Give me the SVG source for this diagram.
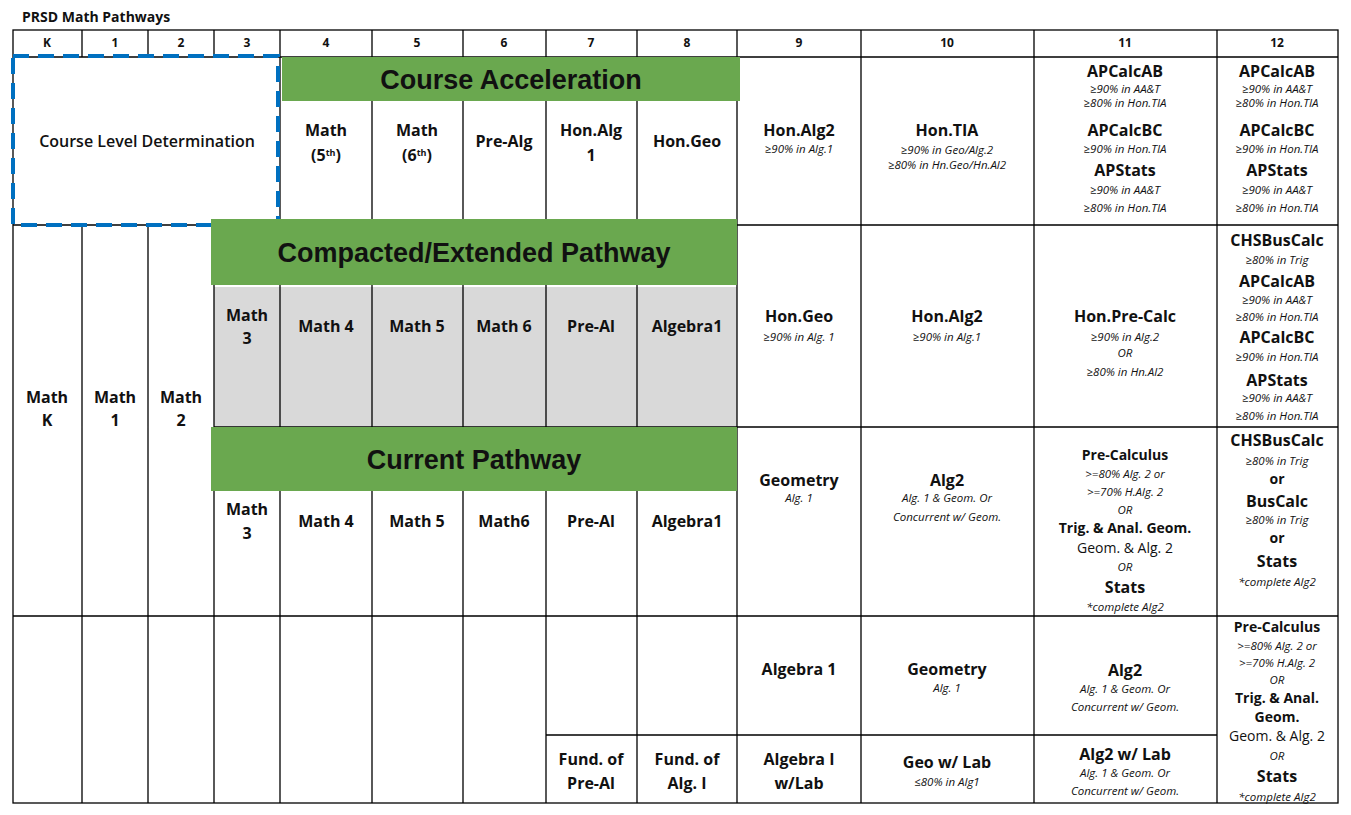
<svg xmlns="http://www.w3.org/2000/svg" width="1351" height="815" viewBox="0 0 1351 815">
<style>
text{font-family:"Open Sans","Liberation Sans",sans-serif;text-anchor:middle;fill:#111}
.h{font-size:12px;font-weight:bold}
.b{font-size:16px;font-weight:bold}
.m{font-size:14px;font-weight:bold}
.n{font-size:14px}
.s{font-size:11.5px;font-style:italic}
.g{font-family:"Liberation Sans",Arial,sans-serif;font-size:27px;font-weight:bold}
.l{stroke:#000;stroke-width:1.3;fill:none}
.ban{fill:#6aa84f}
</style>
<rect width="1351" height="815" fill="#fff"/>
<text x="22" y="22" style="text-anchor:start;font-size:14px;font-weight:bold">PRSD Math Pathways</text>
<g id="grid">
<rect x="214" y="287" width="523" height="140" fill="#d9d9d9"/>
<rect class="l" x="13" y="30" width="1325" height="773"/>
<path class="l" d="M13 57H1338M13 225H1338M214 427H1338M13 616H1338M546 735H1217
M82 30V57M82 225V803M148 30V57M148 225V803M214 30V57M214 225V803
M280 30V803M372 30V803M463 30V803M546 30V803M637 30V803M737 30V803M861 30V803M1034 30V803M1217 30V803"/>
</g>
<g id="header">
<text class="h" x="47" y="47">K</text><text class="h" x="115" y="47">1</text><text class="h" x="181" y="47">2</text><text class="h" x="247" y="47">3</text><text class="h" x="326" y="47">4</text><text class="h" x="417" y="47">5</text><text class="h" x="504" y="47">6</text><text class="h" x="591" y="47">7</text><text class="h" x="687" y="47">8</text><text class="h" x="799" y="47">9</text><text class="h" x="947" y="47">10</text><text class="h" x="1125" y="47">11</text><text class="h" x="1277" y="47">12</text>
</g>
<g id="course-level">
<rect x="13" y="56" width="265" height="169" fill="none" stroke="#0070c0" stroke-width="4" stroke-dasharray="16 9"/>
<text x="147" y="147" style="font-size:16px;font-weight:600">Course Level Determination</text>
</g>
<g id="row1">
<text class="b" x="326" y="136">Math</text><text class="b" x="326" y="161">(5<tspan font-size="9" dy="-5">th</tspan><tspan dy="5">)</tspan></text>
<text class="b" x="417" y="136">Math</text><text class="b" x="417" y="161">(6<tspan font-size="9" dy="-5">th</tspan><tspan dy="5">)</tspan></text>
<text class="b" x="504" y="147">Pre-Alg</text>
<text class="b" x="591" y="136">Hon.Alg</text><text class="b" x="591" y="161">1</text>
<text class="b" x="687" y="147">Hon.Geo</text>
<text class="b" x="799" y="136">Hon.Alg2</text><text class="s" x="799" y="153">≥90% in Alg.1</text>
<text class="b" x="947" y="136">Hon.TIA</text><text class="s" x="947" y="154">≥90% in Geo/Alg.2</text><text class="s" x="947" y="169">≥80% in Hn.Geo/Hn.Al2</text>
<text class="b" x="1125" y="77">APCalcAB</text><text class="s" x="1125" y="93">≥90% in AA&amp;T</text><text class="s" x="1125" y="107">≥80% in Hon.TIA</text><text class="b" x="1125" y="136">APCalcBC</text><text class="s" x="1125" y="153">≥90% in Hon.TIA</text><text class="b" x="1125" y="176">APStats</text><text class="s" x="1125" y="194">≥90% in AA&amp;T</text><text class="s" x="1125" y="212">≥80% in Hon.TIA</text>
<text class="b" x="1277" y="77">APCalcAB</text><text class="s" x="1277" y="93">≥90% in AA&amp;T</text><text class="s" x="1277" y="107">≥80% in Hon.TIA</text><text class="b" x="1277" y="136">APCalcBC</text><text class="s" x="1277" y="153">≥90% in Hon.TIA</text><text class="b" x="1277" y="176">APStats</text><text class="s" x="1277" y="194">≥90% in AA&amp;T</text><text class="s" x="1277" y="212">≥80% in Hon.TIA</text>
</g>
<g id="row2">
<text class="b" x="47" y="403">Math</text><text class="b" x="47" y="426">K</text>
<text class="b" x="115" y="403">Math</text><text class="b" x="115" y="426">1</text>
<text class="b" x="181" y="403">Math</text><text class="b" x="181" y="426">2</text>
<text class="b" x="247" y="321">Math</text><text class="b" x="247" y="344">3</text>
<text class="b" x="326" y="332">Math 4</text><text class="b" x="417" y="332">Math 5</text><text class="b" x="504" y="332">Math 6</text><text class="b" x="591" y="332">Pre-Al</text><text class="b" x="687" y="332">Algebra1</text>
<text class="b" x="799" y="322">Hon.Geo</text><text class="s" x="799" y="341">≥90% in Alg. 1</text>
<text class="b" x="947" y="322">Hon.Alg2</text><text class="s" x="947" y="341">≥90% in Alg.1</text>
<text class="b" x="1125" y="322">Hon.Pre-Calc</text><text class="s" x="1125" y="341">≥90% in Alg.2</text><text class="s" x="1125" y="357">OR</text><text class="s" x="1125" y="376">≥80% in Hn.Al2</text>
<text class="b" x="1277" y="246">CHSBusCalc</text><text class="s" x="1277" y="264">≥80% in Trig</text><text class="b" x="1277" y="287">APCalcAB</text><text class="s" x="1277" y="304">≥90% in AA&amp;T</text><text class="s" x="1277" y="321">≥80% in Hon.TIA</text><text class="b" x="1277" y="343">APCalcBC</text><text class="s" x="1277" y="361">≥90% in Hon.TIA</text><text class="b" x="1277" y="386">APStats</text><text class="s" x="1277" y="402">≥90% in AA&amp;T</text><text class="s" x="1277" y="420">≥80% in Hon.TIA</text>
</g>
<g id="row3">
<text class="b" x="247" y="515">Math</text><text class="b" x="247" y="539">3</text>
<text class="b" x="326" y="527">Math 4</text><text class="b" x="417" y="527">Math 5</text><text class="b" x="504" y="527">Math6</text><text class="b" x="591" y="527">Pre-Al</text><text class="b" x="687" y="527">Algebra1</text>
<text class="b" x="799" y="486">Geometry</text><text class="s" x="799" y="502">Alg. 1</text>
<text class="b" x="947" y="486">Alg2</text><text class="s" x="947" y="502">Alg. 1 &amp; Geom. Or</text><text class="s" x="947" y="521">Concurrent w/ Geom.</text>
<text class="m" x="1125" y="460">Pre-Calculus</text><text class="s" x="1125" y="478">&gt;=80% Alg. 2 or</text><text class="s" x="1125" y="496">&gt;=70% H.Alg. 2</text><text class="s" x="1125" y="514">OR</text><text class="m" x="1125" y="533">Trig. &amp; Anal. Geom.</text><text class="n" x="1125" y="553">Geom. &amp; Alg. 2</text><text class="s" x="1125" y="571">OR</text><text class="b" x="1125" y="593">Stats</text><text class="s" x="1125" y="611">*complete Alg2</text>
<text class="b" x="1277" y="446">CHSBusCalc</text><text class="s" x="1277" y="465">≥80% in Trig</text><text class="m" x="1277" y="484">or</text><text class="b" x="1277" y="507">BusCalc</text><text class="s" x="1277" y="524">≥80% in Trig</text><text class="m" x="1277" y="543">or</text><text class="b" x="1277" y="567">Stats</text><text class="s" x="1277" y="586">*complete Alg2</text>
</g>
<g id="row4">
<text class="b" x="799" y="675">Algebra 1</text>
<text class="b" x="947" y="675">Geometry</text><text class="s" x="947" y="692">Alg. 1</text>
<text class="b" x="1125" y="676">Alg2</text><text class="s" x="1125" y="693">Alg. 1 &amp; Geom. Or</text><text class="s" x="1125" y="711">Concurrent w/ Geom.</text>
<text class="b" x="591" y="765">Fund. of</text><text class="b" x="591" y="789">Pre-Al</text>
<text class="b" x="687" y="765">Fund. of</text><text class="b" x="687" y="789">Alg. I</text>
<text class="b" x="799" y="765">Algebra I</text><text class="b" x="799" y="789">w/Lab</text>
<text class="b" x="947" y="768">Geo w/ Lab</text><text class="s" x="947" y="786">≤80% in Alg1</text>
<text class="b" x="1125" y="760">Alg2 w/ Lab</text><text class="s" x="1125" y="777">Alg. 1 &amp; Geom. Or</text><text class="s" x="1125" y="795">Concurrent w/ Geom.</text>
<text class="m" x="1277" y="632">Pre-Calculus</text><text class="s" x="1277" y="650">&gt;=80% Alg. 2 or</text><text class="s" x="1277" y="667">&gt;=70% H.Alg. 2</text><text class="s" x="1277" y="684">OR</text><text class="m" x="1277" y="703">Trig. &amp; Anal.</text><text class="m" x="1277" y="722">Geom.</text><text class="n" x="1277" y="741">Geom. &amp; Alg. 2</text><text class="s" x="1277" y="760">OR</text><text class="b" x="1277" y="782">Stats</text><text class="s" x="1277" y="801">*complete Alg2</text>
</g>
<g id="banner-acceleration"><rect class="ban" x="282" y="57" width="458" height="44"/><text class="g" x="511" y="89">Course Acceleration</text></g>
<g id="banner-compacted"><rect class="ban" x="211" y="219" width="526" height="66"/><text class="g" x="474" y="262">Compacted/Extended Pathway</text></g>
<g id="banner-current"><rect class="ban" x="211" y="427" width="526" height="64"/><text class="g" x="474" y="469">Current Pathway</text></g>
</svg>
